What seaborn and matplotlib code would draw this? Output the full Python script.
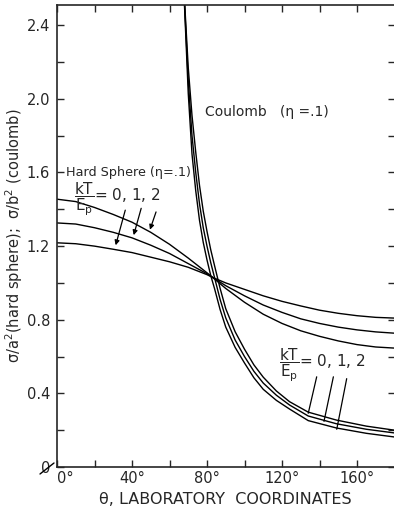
import matplotlib
matplotlib.use("Agg")
import matplotlib.pyplot as plt
from matplotlib.lines import Line2D
import seaborn as sns
import numpy as np

# --- data ---
# hard sphere (eta = .1), kT/Ep = 0, 1, 2
hs_theta = [0, 10, 20, 30, 40, 50, 60, 70, 80, 83, 90, 100, 110, 120, 130, 140, 150, 160, 170, 180]
hs_kt0 = [1.218, 1.213, 1.200, 1.183, 1.165, 1.140, 1.115, 1.085, 1.045, 1.030,
          1.000, 0.965, 0.930, 0.900, 0.875, 0.852, 0.835, 0.822, 0.813, 0.809]
hs_kt1 = [1.326, 1.320, 1.300, 1.275, 1.245, 1.205, 1.160, 1.105, 1.050, 1.030,
          0.985, 0.930, 0.880, 0.840, 0.805, 0.780, 0.760, 0.745, 0.734, 0.727]
hs_kt2 = [1.455, 1.442, 1.410, 1.372, 1.330, 1.275, 1.210, 1.135, 1.055, 1.030,
          0.970, 0.895, 0.830, 0.780, 0.740, 0.710, 0.685, 0.665, 0.652, 0.646]

# coulomb (eta = .1), kT/Ep = 0, 1, 2
cb_theta = [67, 68, 70, 72, 74, 76, 78, 80, 82, 84, 87, 90, 95, 100, 105, 110, 117, 124, 134, 149, 165, 180]
cb_kt0 = [2.75, 2.535, 2.17, 1.91, 1.71, 1.53, 1.39, 1.28, 1.18, 1.095, 0.97, 0.86,
          0.735, 0.64, 0.555, 0.488, 0.413, 0.355, 0.298, 0.255, 0.222, 0.200]
cb_kt1 = [2.75, 2.52, 2.10, 1.80, 1.60, 1.43, 1.30, 1.20, 1.11, 1.03, 0.91, 0.81,
          0.69, 0.60, 0.52, 0.456, 0.39, 0.337, 0.277, 0.235, 0.205, 0.185]
cb_kt2 = [2.75, 2.505, 2.03, 1.70, 1.50, 1.34, 1.22, 1.125, 1.04, 0.97, 0.855, 0.76,
          0.65, 0.565, 0.485, 0.422, 0.362, 0.315, 0.252, 0.212, 0.183, 0.163]

x_major = [0, 40, 80, 120, 160]
x_labels = ["0°", "40°", "80°", "120°", "160°"]
y_major = [0, 0.4, 0.8, 1.2, 1.6, 2.0, 2.4]
y_labels = ["0", "0.4", "0.8", "1.2", "1.6", "2.0", "2.4"]

sns.set_style("ticks")
plt.rcParams["font.family"] = ["DejaVu Sans"]
plt.rcParams["mathtext.fontset"] = "dejavusans"

fig = plt.figure(figsize=(3.94, 5.12), dpi=100)
ax = fig.add_axes([57 / 394, 45 / 512, 337.5 / 394, 462 / 512])

for vals in (hs_kt0, hs_kt1, hs_kt2):
    sns.lineplot(x=hs_theta, y=vals, ax=ax, color="black", lw=1.0)
for vals in (cb_kt0, cb_kt1, cb_kt2):
    sns.lineplot(x=cb_theta, y=vals, ax=ax, color="black", lw=1.0)

ax.set_xlim(0, 180)
ax.set_ylim(0, 2.51)

# ticks
ax.set_xticks(x_major)
ax.set_xticklabels(x_labels, fontsize=10.5)
ax.get_xticklabels()[0].set_ha("left")
ax.set_xticks(np.arange(20, 180, 40), minor=True)
ax.set_yticks(y_major)
ax.set_yticklabels(y_labels, fontsize=10.5)
ax.set_yticks(np.arange(0.2, 2.5, 0.4), minor=True)
ax.tick_params(which="both", direction="in", top=True, right=True, width=1.0, length=5)
ax.tick_params(axis="x", pad=3)
ax.tick_params(axis="y", pad=5)
for s in ax.spines.values():
    s.set_linewidth(1.2)

ax.set_xlabel("θ, LABORATORY  COORDINATES", fontsize=11.5, labelpad=4)
ax.set_ylabel("σ/a$^2$(hard sphere);  σ/b$^2$ (coulomb)", fontsize=10.5, labelpad=1)

# corner slash
fig.add_artist(Line2D([40 / 394, 54 / 394], [1 - 474 / 512, 1 - 463 / 512],
                      color="black", lw=1.0))

# annotations
frac = r"$\dfrac{\mathrm{kT}}{\mathrm{E_p}}$= 0, 1, 2"
ax.text(78.9, 1.93, "Coulomb   (η =.1)", fontsize=10, va="center", ha="left")
ax.text(5.0, 1.6, "Hard Sphere (η=.1)", fontsize=9.2, va="center", ha="left")
ax.text(9.0, 1.455, frac, fontsize=11, va="center", ha="left")
ax.text(118.5, 0.55, frac, fontsize=11, va="center", ha="left")

arrow_kw = dict(arrowstyle="-|>", color="black", lw=0.9, mutation_scale=7)
for start, end in [((36.8, 1.41), (30.9, 1.19)),
                   ((45.3, 1.42), (40.5, 1.245)),
                   ((53.3, 1.40), (49.1, 1.275))]:
    ax.annotate("", xy=end, xytext=start, arrowprops=arrow_kw)
for start, end in [((138.5, 0.49), (134.0, 0.292)),
                   ((147.4, 0.49), (142.4, 0.248)),
                   ((154.5, 0.48), (149.2, 0.205))]:
    ax.plot([start[0], end[0]], [start[1], end[1]], color="black", lw=0.9)

fig.savefig("out.png", dpi=100)
